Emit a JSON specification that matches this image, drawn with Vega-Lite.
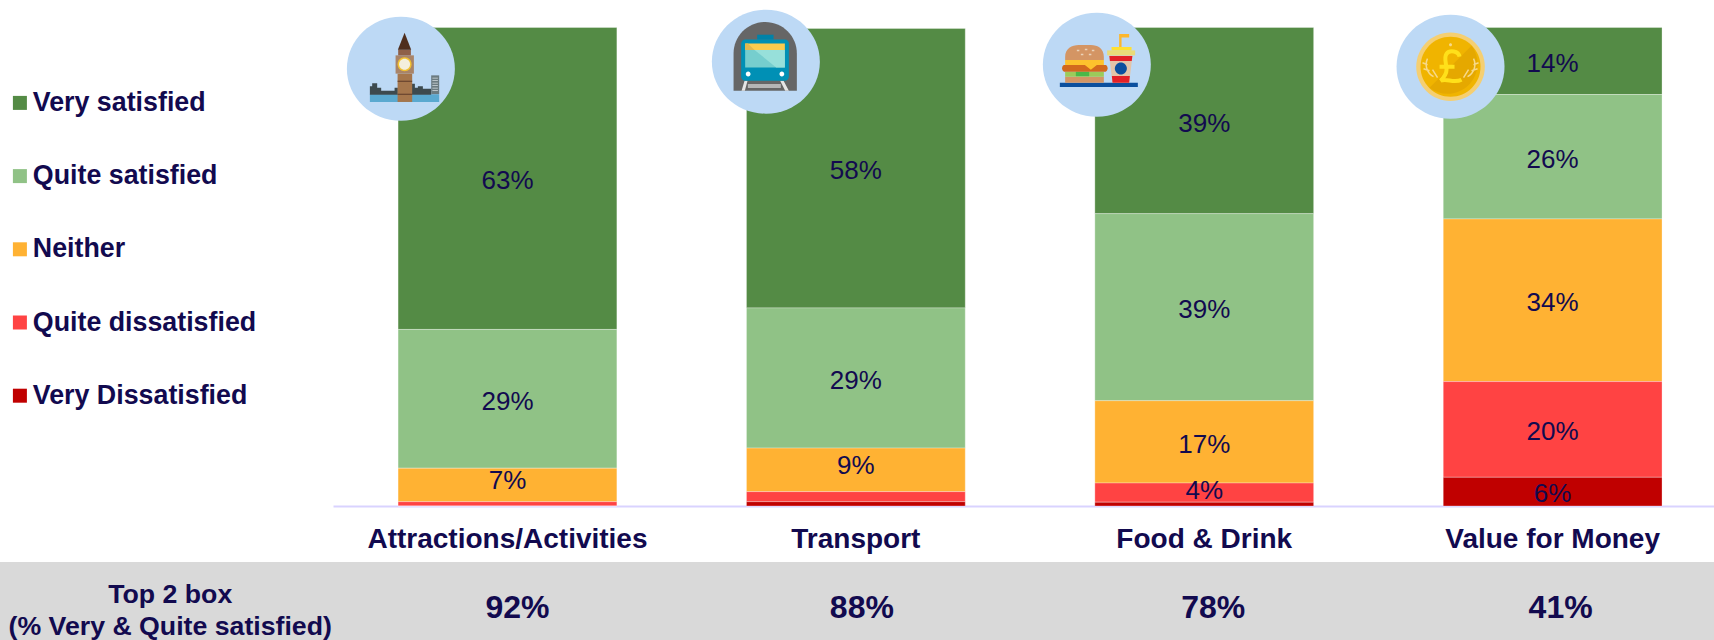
{"$schema":"https://vega.github.io/schema/vega-lite/v6.json","width":1381,"height":478.5,"autosize":{"type":"none"},"padding":{"left":333,"top":27.5,"right":0,"bottom":134},"background":"#ffffff",
"config":{"view":{"stroke":null},"point":{"size":4,"filled":true,"opacity":1,"strokeWidth":0},"text":{"font":"Liberation Sans","fill":"#120A4F"}},
"datasets":{"ratings":[
{"aspect":"Attractions/Activities","status":"Very satisfied","rank":5,"share":0.631},{"aspect":"Attractions/Activities","status":"Quite satisfied","rank":4,"share":0.29},{"aspect":"Attractions/Activities","status":"Neither","rank":3,"share":0.07},{"aspect":"Attractions/Activities","status":"Quite dissatisfied","rank":2,"share":0.009},{"aspect":"Attractions/Activities","status":"Very Dissatisfied","rank":1,"share":0},
{"aspect":"Transport","status":"Very satisfied","rank":5,"share":0.584},{"aspect":"Transport","status":"Quite satisfied","rank":4,"share":0.293},{"aspect":"Transport","status":"Neither","rank":3,"share":0.091},{"aspect":"Transport","status":"Quite dissatisfied","rank":2,"share":0.021},{"aspect":"Transport","status":"Very Dissatisfied","rank":1,"share":0.009},
{"aspect":"Food & Drink","status":"Very satisfied","rank":5,"share":0.389},{"aspect":"Food & Drink","status":"Quite satisfied","rank":4,"share":0.391},{"aspect":"Food & Drink","status":"Neither","rank":3,"share":0.172},{"aspect":"Food & Drink","status":"Quite dissatisfied","rank":2,"share":0.04},{"aspect":"Food & Drink","status":"Very Dissatisfied","rank":1,"share":0.008},
{"aspect":"Value for Money","status":"Very satisfied","rank":5,"share":0.14},{"aspect":"Value for Money","status":"Quite satisfied","rank":4,"share":0.26},{"aspect":"Value for Money","status":"Neither","rank":3,"share":0.34},{"aspect":"Value for Money","status":"Quite dissatisfied","rank":2,"share":0.2},{"aspect":"Value for Money","status":"Very Dissatisfied","rank":1,"share":0.06}],
"top2":[{"aspect":"Attractions/Activities","top2":0.92},{"aspect":"Transport","top2":0.88},{"aspect":"Food & Drink","top2":0.78},{"aspect":"Value for Money","top2":0.41}]},
"data":{"name":"ratings"},
"resolve":{"scale":{"x":"independent"}},
"layer":[
{"data":{"values":[{"label":"Top 2 box\n(% Very & Quite satisfied)"}]},
 "encoding":{"y":{"datum":-0.117,"type":"quantitative","scale":{"domain":[0,1],"nice":false},"axis":null},"x":{"datum":0,"type":"quantitative","scale":{"domain":[0,1],"range":[-333,1381]},"axis":null}},
 "layer":[
 {"mark":{"type":"rect","fill":"#D9D9D9"},"encoding":{"x2":{"datum":1},"y2":{"datum":-0.28}}},
 {"mark":{"type":"text","fontSize":26.7,"fontWeight":"bold","lineBreak":"\n","lineHeight":32,"baseline":"middle","align":"center"},"encoding":{"x":{"datum":0.0993,"type":"quantitative"},"y":{"datum":-0.186,"type":"quantitative"},"text":{"field":"label"}}}
 ]},
{"encoding":{"x":{"field":"aspect","type":"nominal","sort":null,"title":null,"scale":{"domain":["Attractions/Activities","Transport","Food & Drink","Value for Money"],"paddingInner":0.372,"paddingOuter":0.168,"align":0.556},"axis":{"domain":true,"domainColor":"#D9D3FF","domainWidth":2,"ticks":false,"grid":false,"labelAngle":0,"labelFont":"Liberation Sans","labelFontSize":28,"labelFontWeight":"bold","labelColor":"#120A4F","labelPadding":19.5,"labelLimit":400,"encode":{"labels":{"update":{"dx":{"signal":"datum.value==='Food & Drink'?3:datum.value==='Value for Money'?5:0"}}}}}}},
 "layer":[
 {"mark":{"type":"bar","stroke":"#ffffff","strokeWidth":0.5,"strokeOpacity":0.6},"encoding":{"y":{"field":"share","type":"quantitative","stack":"zero","scale":{"domain":[0,1],"nice":false},"axis":null},"order":{"field":"rank","type":"quantitative"},"color":{"field":"status","type":"nominal","title":null,"scale":{"domain":["Very satisfied","Quite satisfied","Neither","Quite dissatisfied","Very Dissatisfied"],"range":["#548B45","#90C286","#FFB233","#FF4343","#C00000"]},"legend":{"orient":"none","legendX":-326.5,"legendY":62,"padding":0,"symbolType":"square","symbolSize":196,"symbolStrokeWidth":0,"symbolOpacity":1,"labelFont":"Liberation Sans","labelFontSize":26.8,"labelFontWeight":"bold","labelColor":"#120A4F","labelOffset":-0.5,"rowPadding":45.2,"labelLimit":300}}}},
 {"transform":[{"stack":"share","groupby":["aspect"],"sort":[{"field":"rank","order":"ascending"}],"as":["s0","s1"]},{"filter":"datum.share>=0.035"},{"fold":["s0","s1"],"as":["edge","pos"]}],"mark":{"type":"text","fontSize":26,"baseline":"middle","align":"center","yOffset":{"expr":"datum.max_share<0.05?-2:datum.max_share<0.065?2:datum.max_share<0.1?-4:3"}},"encoding":{"y":{"aggregate":"mean","field":"pos","type":"quantitative","scale":{"domain":[0,1],"nice":false},"axis":null},"detail":{"field":"status"},"text":{"aggregate":"max","field":"share","type":"quantitative","format":".0%"}}},
 {"data":{"name":"top2"},"mark":{"type":"text","fontSize":32,"fontWeight":"bold","baseline":"middle","align":"center","xOffset":{"expr":"datum.aspect==='Attractions/Activities'?10:datum.aspect==='Transport'?6:datum.aspect==='Food & Drink'?9:8"}},"encoding":{"y":{"datum":-0.213,"type":"quantitative","scale":{"domain":[0,1],"nice":false},"axis":null},"text":{"field":"top2","type":"quantitative","format":".0%"}}},
 {"data":{"values":[{"aspect":"Attractions/Activities"}]},"encoding":{"y":{"datum":0.914,"type":"quantitative","scale":{"domain":[0,1],"nice":false},"axis":null}},"layer":[
  {"mark":{"type":"point","xOffset":-106.6,"fill":"#BDD9F5","shape":"M-54 0A54 52 0 1 0 54 0A54 52 0 1 0 -54 0Z"}},
  {"mark":{"type":"point","xOffset":-106.6,"fill":"#5AA9D0","shape":"M-31 25.7H38.3V33.3H-31Z"}},
  {"mark":{"type":"point","xOffset":-106.6,"fill":"#3D4A4E","shape":"M-31 26V17.7H-28.7V14.7H-23.7V19H-19.7V22H-6.3V19H-3V26ZM11 26V15H14V19H17V17.7H22V20H30.3V26Z"}},
  {"mark":{"type":"point","xOffset":-106.6,"fill":"#6B7B80","shape":"M30.3 25.5V6.7H38.3V25.5Z"}},
  {"mark":{"type":"point","xOffset":-106.6,"fill":"#D5DDE0","shape":"M31.5 9h5.5v.8h-5.5zM31.5 11.5h5.5v.8h-5.5zM31.5 14h5.5v.8h-5.5zM31.5 16.5h5.5v.8h-5.5zM31.5 19h5.5v.8h-5.5zM31.5 21.5h5.5v.8h-5.5z"}},
  {"mark":{"type":"point","xOffset":-106.6,"fill":"#A5764C","shape":"M-3.3 5H11.3V33.3H-3.3Z"}},
  {"mark":{"type":"point","xOffset":-106.6,"fill":"#5E3B28","shape":"M-3.3 12H11.3V13H-3.3ZM-3.3 25.2H11.3V26.2H-3.3Z"}},
  {"mark":{"type":"point","xOffset":-106.6,"fill":"#A98468","shape":"M-5.3 -13.3H13V5H-5.3Z"}},
  {"mark":{"type":"point","xOffset":-106.6,"fill":"#8E6048","shape":"M-2.7 -19H10V-13.3H-2.7Z"}},
  {"mark":{"type":"point","xOffset":-106.6,"fill":"#4F2E1E","shape":"M3.7 -36L-3 -19H10.3Z"}},
  {"mark":{"type":"point","xOffset":-106.6,"fill":"#F2C230","shape":"M-3.3 -4.3a7 7 0 1 0 14 0a7 7 0 1 0 -14 0Z"}},
  {"mark":{"type":"point","xOffset":-106.6,"fill":"#F4EFDC","shape":"M-1.8 -4.3a5.5 5.5 0 1 0 11 0a5.5 5.5 0 1 0 -11 0Z"}}
 ]},
 {"data":{"values":[{"aspect":"Transport"}]},"encoding":{"y":{"datum":0.9285,"type":"quantitative","scale":{"domain":[0,1],"nice":false},"axis":null}},"layer":[
  {"mark":{"type":"point","xOffset":-90,"fill":"#BDD9F5","shape":"M-54 0A54 52 0 1 0 54 0A54 52 0 1 0 -54 0Z"}},
  {"mark":{"type":"point","xOffset":-90,"fill":"#666666","shape":"M-32.3 29V-8.3A31.65 31.4 0 0 1 31 -8.3V29Z"}},
  {"mark":{"type":"point","xOffset":-90,"fill":"#B5B5B5","shape":"M-18 22.3H15V26.3H-18Z"}},
  {"mark":{"type":"point","xOffset":-90,"fill":"#E6E6E6","shape":"M-21.3 19H-18.3L-21 29H-24.3ZM14.3 19H17.7L23 29H19.3Z"}},
  {"mark":{"type":"point","xOffset":-90,"fill":"#0082A8","shape":"M-8.7 -27H7.7V-22H-8.7Z"}},
  {"mark":{"type":"point","xOffset":-90,"fill":"#0090B5","shape":"M-20.7 -22.3H19a4 4 0 0 1 4 4V15a4 4 0 0 1 -4 4H-20.7a4 4 0 0 1 -4 -4V-18.3a4 4 0 0 1 4 -4Z"}},
  {"mark":{"type":"point","xOffset":-90,"fill":"#76CECE","shape":"M-20.7 -11.7H19V5.7H-20.7Z"}},
  {"mark":{"type":"point","xOffset":-90,"fill":"#97E0DA","shape":"M-11.3 -11.7H19V5.7H10.3Z"}},
  {"mark":{"type":"point","xOffset":-90,"fill":"#FACC4F","shape":"M-20.7 -18.3H19V-11.7H-20.7Z"}},
  {"mark":{"type":"point","xOffset":-90,"fill":"#E0B850","shape":"M-20.7 -18.3H-18L-11.3 -11.7H-20.7Z"}},
  {"mark":{"type":"point","xOffset":-90,"fill":"#ffffff","shape":"M-20.1 12.3a2.4 2.4 0 1 0 4.8 0a2.4 2.4 0 1 0 -4.8 0ZM13.6 12.3a2.4 2.4 0 1 0 4.8 0a2.4 2.4 0 1 0 -4.8 0Z"}}
 ]},
 {"data":{"values":[{"aspect":"Food & Drink"}]},"encoding":{"y":{"datum":0.9223,"type":"quantitative","scale":{"domain":[0,1],"nice":false},"axis":null}},"layer":[
  {"mark":{"type":"point","xOffset":-107.4,"fill":"#BDD9F5","shape":"M-54 0A54 52 0 1 0 54 0A54 52 0 1 0 -54 0Z"}},
  {"mark":{"type":"point","xOffset":-107.4,"fill":"#0B4F9E","shape":"M-37 18H41V22.3H-37Z"}},
  {"mark":{"type":"point","xOffset":-107.4,"fill":"#D49564","shape":"M-31.7 -4.7V-8C-31.7 -16 -25 -19.7 -18 -19.7H-6C1 -19.7 7 -16 7 -8V-4.7ZM-31.7 12H7V18H-31.7Z"}},
  {"mark":{"type":"point","xOffset":-107.4,"fill":"#EBD3B8","shape":"M-20 -15h2.5v1.5h-2.5zM-12 -16h2.5v1.5h-2.5zM-5 -15h2.5v1.5h-2.5zM-16 -11h2.5v1.5h-2.5zM-8 -11h2.5v1.5h-2.5z"}},
  {"mark":{"type":"point","xOffset":-107.4,"fill":"#9CCB5A","shape":"M-31.7 7H7V12H-31.7Z"}},
  {"mark":{"type":"point","xOffset":-107.4,"fill":"#4CB848","shape":"M-21 7H-7.7V11.5H-21Z"}},
  {"mark":{"type":"point","xOffset":-107.4,"fill":"#D2691E","shape":"M-32.7 0.3H8.7a2 3.3 0 0 1 0 6.7H-32.7a2 3.3 0 0 1 0 -6.7Z"}},
  {"mark":{"type":"point","xOffset":-107.4,"fill":"#FDC22D","shape":"M-31.7 -4.7H7V0.3H0L-6 5L-12 0.3H-31.7Z"}},
  {"mark":{"type":"point","xOffset":-107.4,"fill":"#FDB72D","shape":"M22.3 -17.7V-30.7H32.3V-27.3H24.7V-17.7Z"}},
  {"mark":{"type":"point","xOffset":-107.4,"fill":"#E2C4A8","shape":"M12.3 -9.3H35.7L32.3 18H15.7Z"}},
  {"mark":{"type":"point","xOffset":-107.4,"fill":"#E32027","shape":"M12.5 -8.7H35.5L34.9 -3.7H13.1ZM15 11.3H33L32.3 18H15.7Z"}},
  {"mark":{"type":"point","xOffset":-107.4,"fill":"#0B4F9E","shape":"M18 3.7a6 6 0 1 0 12 0a6 6 0 1 0 -12 0Z"}},
  {"mark":{"type":"point","xOffset":-107.4,"fill":"#E9DB7A","shape":"M10.3 -14.3H38.3V-9.3H10.3Z"}},
  {"mark":{"type":"point","xOffset":-107.4,"fill":"#FFE032","shape":"M14.7 -17.7H34.7V-14.3H14.7Z"}}
 ]},
 {"data":{"values":[{"aspect":"Value for Money"}]},"encoding":{"y":{"datum":0.9181,"type":"quantitative","scale":{"domain":[0,1],"nice":false},"axis":null}},"layer":[
  {"mark":{"type":"point","xOffset":-102.1,"fill":"#BDD9F5","shape":"M-54 0A54 52 0 1 0 54 0A54 52 0 1 0 -54 0Z"}},
  {"mark":{"type":"point","xOffset":-102.1,"fill":"#F5CF72","shape":"M-34.3 0a34.3 34.3 0 1 0 68.6 0a34.3 34.3 0 1 0 -68.6 0Z"}},
  {"mark":{"type":"point","xOffset":-102.1,"fill":"#F0B400","shape":"M-30 0a30 30 0 1 0 60 0a30 30 0 1 0 -60 0Z"}},
  {"mark":{"type":"point","xOffset":-102.1,"fill":"#E5A800","shape":"M21 -21A30 30 0 0 1 -21 21Z"}},
  {"mark":{"type":"point","xOffset":-102.1,"fill":"#F7D98A","shape":"M-1.5 -22a1.5 1.5 0 1 0 3 0a1.5 1.5 0 1 0 -3 0Z"}},
  {"mark":{"type":"point","xOffset":-102.1,"filled":false,"fill":null,"stroke":"#FFE01A","strokeWidth":4,"shape":"M9 -10C8 -16 -1 -17 -4 -13C-7 -9 -4 -3 -4 3C-4 8 -7 11 -10 14C-4 11 3 17 11 13M-11 0H4"}},
  {"mark":{"type":"point","xOffset":-102.1,"filled":false,"fill":null,"stroke":"#F7D98A","strokeWidth":1.5,"shape":"M-17 10C-24 6 -26 -2 -23 -8M-21 4L-27 2M-23 -2L-28 -4M-13 11L-18 3M17 10C24 6 26 -2 23 -8M21 4L27 2M23 -2L28 -4M13 11L18 3"}}
 ]}
 ]}
]}
